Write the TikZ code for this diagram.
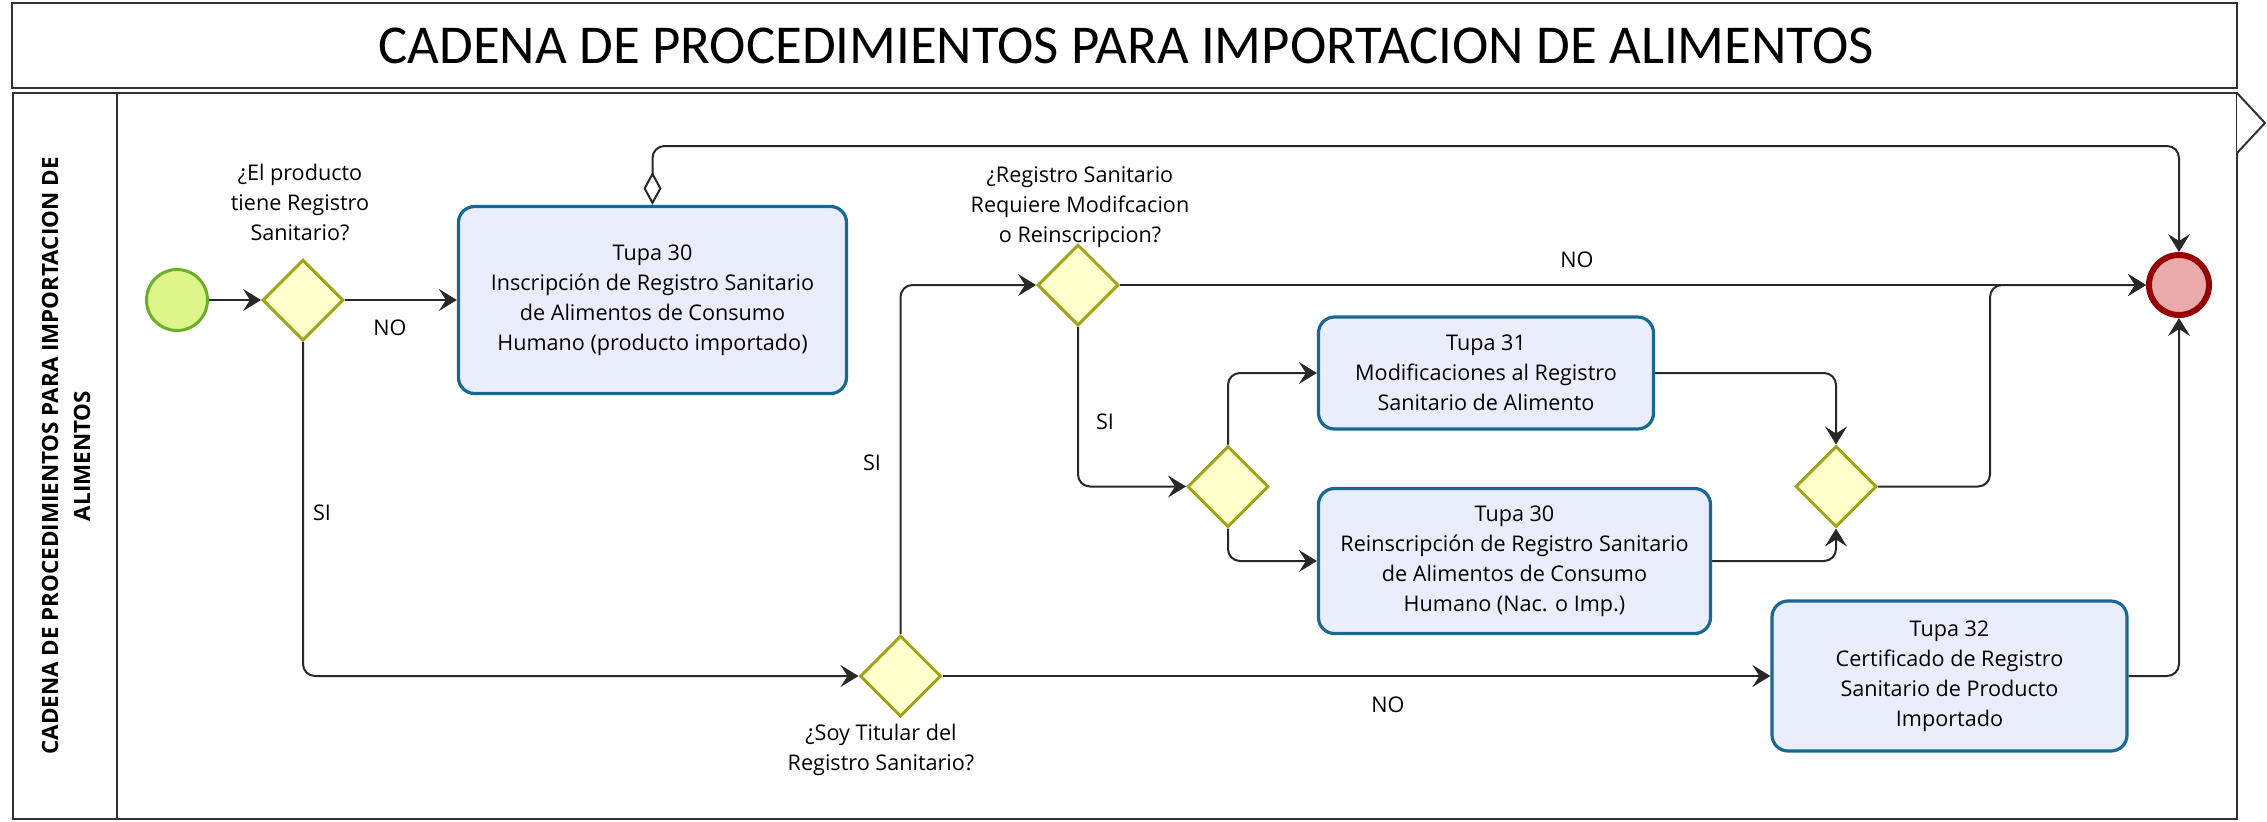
\documentclass[tikz,border=0pt]{standalone}
\usepackage{fontspec}
\setmainfont{Open Sans}
\newfontfamily\titlefont{Carlito}
\usetikzlibrary{shapes.geometric,arrows.meta,calc}

\definecolor{gwfill}{RGB}{255,255,204}
\definecolor{gwdraw}{RGB}{163,163,26}
\definecolor{taskfill}{RGB}{234,238,252}
\definecolor{taskdraw}{RGB}{24,104,150}
\definecolor{startfill}{RGB}{222,245,140}
\definecolor{startdraw}{RGB}{104,176,36}
\definecolor{endfill}{RGB}{235,170,170}
\definecolor{enddraw}{RGB}{150,0,0}
\definecolor{flow}{RGB}{40,40,40}
\definecolor{frame}{RGB}{50,50,50}

\begin{document}
\begin{tikzpicture}[x=0.5pt,y=-0.5pt,
  >={Stealth[length=9pt,width=11pt,inset=3.5pt]},
  gw/.style={diamond,aspect=1,draw=gwdraw,fill=gwfill,line width=1.5pt,minimum size=40.5pt,inner sep=0pt},
  task/.style={draw=taskdraw,fill=taskfill,line width=1.6pt,rounded corners=8pt,align=center,font=\fontsize{10.8}{15}\selectfont,inner sep=0pt},
  flowline/.style={draw=flow,line width=1pt,rounded corners=6pt,->},
  lbl/.style={font=\fontsize{10.8}{15}\selectfont,align=center,inner sep=0pt},
  frameline/.style={draw=frame,line width=1pt},
]
\useasboundingbox (0,0) rectangle (2267,821);

% frames
\draw[frameline] (12,3) rectangle (2237,88);
\node[font=\titlefont\fontsize{27.4}{32}\selectfont,inner sep=0pt] (title) at (1126,46) {CADENA DE PROCEDIMIENTOS PARA IMPORTACION DE ALIMENTOS};
\draw[frameline] (13,93) rectangle (2237,819);
\draw[frameline] (117,93) -- (117,819);
\draw[frameline,fill=white] (2237,93) -- (2265,123) -- (2237,153);
\node[rotate=90,font=\bfseries\fontsize{11.2}{16}\selectfont,align=center,inner sep=0pt] (lane) at (66,456) {CADENA DE PROCEDIMIENTOS PARA IMPORTACION DE\\ALIMENTOS};

% events
\node[circle,draw=startdraw,fill=startfill,line width=1.5pt,minimum size=30.5pt,inner sep=0pt] (start) at (177,300) {};
\node[circle,draw=enddraw,fill=endfill,line width=3pt,minimum size=30pt,inner sep=0pt] (endev) at (2179,285) {};

% gateways
\node[gw] (d1) at (303,300) {};
\node[gw] (reg) at (1078,285) {};
\node[gw] (soy) at (900.5,676) {};
\node[gw] (d3) at (1228,486.5) {};
\node[gw] (d4) at (1836,486.5) {};

% tasks
\node[task,minimum width=194pt,minimum height=93.5pt] (t30) at (652.5,300) {Tupa 30\\Inscripción de Registro Sanitario\\de Alimentos de Consumo\\Humano (producto importado)};
\node[task,minimum width=167.5pt,minimum height=56pt] (t31) at (1486,373) {Tupa 31\\Modificaciones al Registro\\Sanitario de Alimento};
\node[task,minimum width=196pt,minimum height=72.5pt] (t30r) at (1514.5,561) {Tupa 30\\Reinscripción de Registro Sanitario\\de Alimentos de Consumo\\Humano (Nac. o Imp.)};
\node[task,minimum width=177.5pt,minimum height=75pt] (t32) at (1949.5,676) {Tupa 32\\Certificado de Registro\\Sanitario de Producto\\Importado};

% labels
\node[lbl] (q1) at (300,202) {¿El producto\\tiene Registro\\Sanitario?};
\node[lbl] (q2) at (1080,207) {¿Registro Sanitario\\Requiere Modifcacion\\o Reinscripcion?};
\node[lbl] (q3) at (881,750) {¿Soy Titular del\\Registro Sanitario?};
\node[lbl] (no1) at (390,328) {NO};
\node[lbl] (no2) at (1577,260) {NO};
\node[lbl] (no3) at (1388,705) {NO};
\node[lbl] (si1) at (322,513) {SI};
\node[lbl] (si2) at (872,463) {SI};
\node[lbl] (si3) at (1105,422) {SI};

% helper coordinates
\coordinate (topy) at (0,146);
\coordinate (j1) at (1990,285);

% connectors
\draw[flowline] (start.east) -- (d1.west);
\draw[flowline] (d1.east) -- (t30.west);
\draw[flowline] (d1.south) |- (soy.west);
\draw[flowline] (soy.north) |- (reg.west);
\draw[flowline] (soy.east) -- (t32.west);
\draw[flowline] (reg.east) -- (endev.west);
\draw[flowline] (reg.south) |- (d3.west);
\draw[flowline] (d3.north) |- (t31.west);
\draw[flowline] (d3.south) |- (t30r.west);
\draw[flowline] (t31.east) -| (d4.north);
\draw[flowline] (t30r.east) -| (d4.south);
\draw[flowline] (d4.east) -| (j1) -- (endev.west);
\draw[flowline] (t32.east) -| (endev.south);
\draw[flowline,{Diamond[open,length=16.5pt,width=9pt]}->] (t30.north) -- (t30.north |- topy) -| (endev.north);
\end{tikzpicture}
\end{document}
